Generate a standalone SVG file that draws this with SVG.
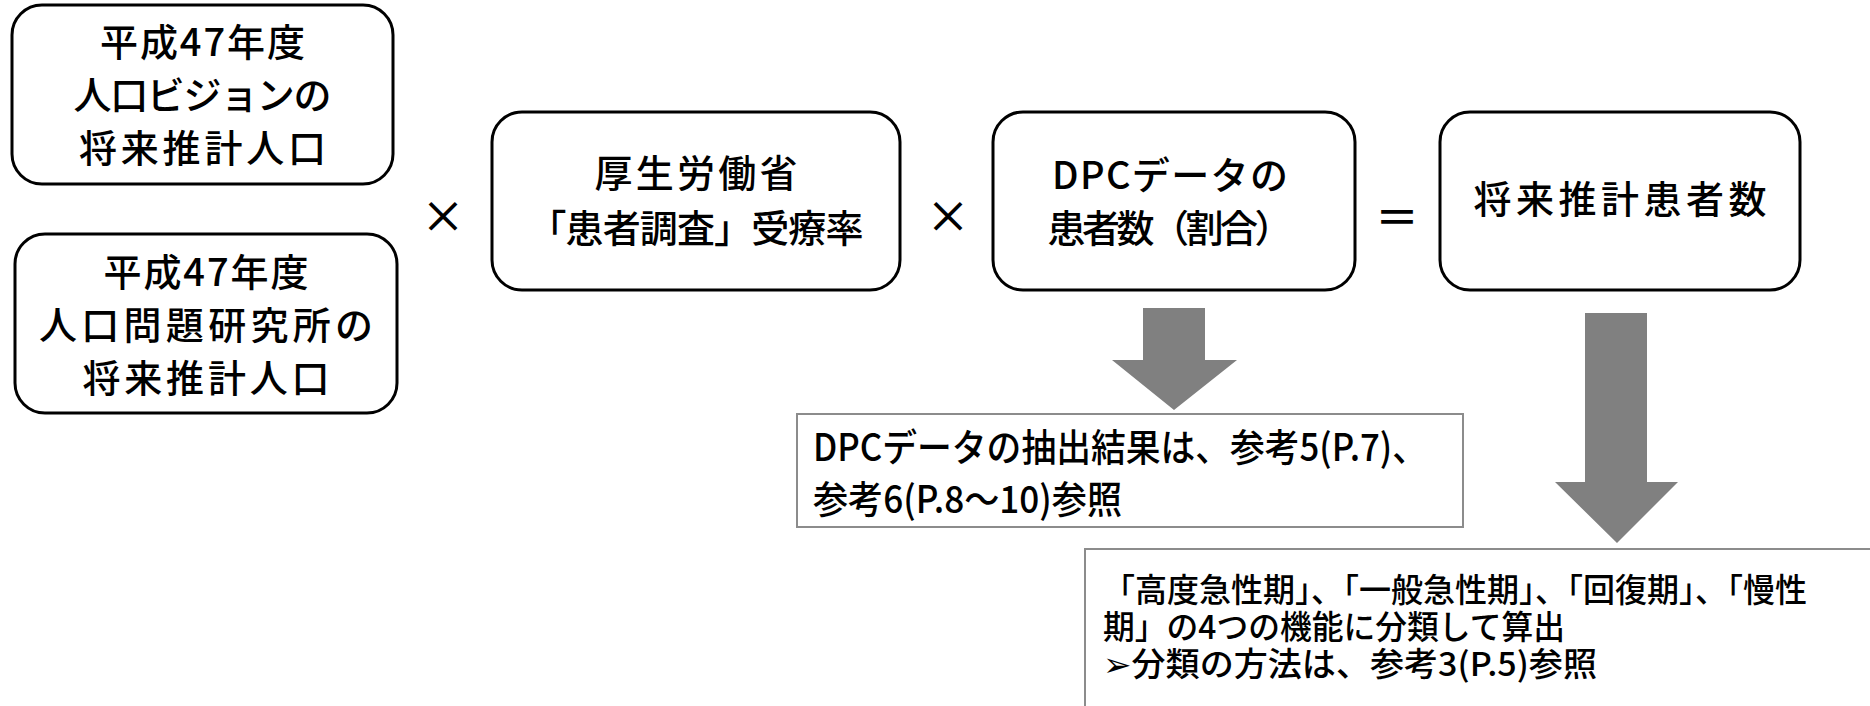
<svg xmlns="http://www.w3.org/2000/svg" width="1870" height="706" viewBox="0 0 1870 706">
<style>
.box{fill:#fff;stroke:#000;stroke-width:3}
.note{fill:#fff;stroke:#8c8c8c;stroke-width:2}
.arrow{fill:#808080}
text{font-family:"Noto Sans CJK JP","DejaVu Sans",sans-serif;fill:#000;font-weight:500}
.t{font-size:38px;text-anchor:middle}
.op{font-size:44px;text-anchor:middle}
.n1{font-size:38px}
.n2{font-size:33px}
</style>
<rect width="1870" height="706" fill="#fff"/>
<g id="connectors">
<polygon class="arrow" points="1143,308 1205,308 1205,360 1237,360 1174,410 1112,360 1143,360"/>
<polygon class="arrow" points="1585,313 1647,313 1647,482 1678,482 1617,543 1555,482 1585,482"/>
</g>
<g id="vision">
<rect class="box" x="12" y="5" width="381" height="179" rx="30"/>
<text class="t" x="202.5" y="56" textLength="205" lengthAdjust="spacing">平成47年度</text>
<text class="t" x="202.5" y="109" textLength="258" lengthAdjust="spacing">人口ビジョンの</text>
<text class="t" x="202.5" y="162" textLength="247" lengthAdjust="spacing">将来推計人口</text>
</g>
<g id="ipss">
<rect class="box" x="15" y="234" width="382" height="179" rx="30"/>
<text class="t" x="206" y="286" textLength="205" lengthAdjust="spacing">平成47年度</text>
<text class="t" x="206" y="339" textLength="334" lengthAdjust="spacing">人口問題研究所の</text>
<text class="t" x="206" y="392" textLength="247" lengthAdjust="spacing">将来推計人口</text>
</g>
<g id="op1"><text class="op" x="443" y="233">×</text></g>
<g id="mhlw">
<rect class="box" x="492" y="112" width="408" height="178" rx="30"/>
<text class="t" x="696" y="187" textLength="203" lengthAdjust="spacing">厚生労働省</text>
<text class="t" x="696" y="242" textLength="335" lengthAdjust="spacing">「患者調査」受療率</text>
</g>
<g id="op2"><text class="op" x="948" y="233">×</text></g>
<g id="dpc">
<rect class="box" x="993" y="112" width="362" height="178" rx="30"/>
<text class="t" x="1170" y="189" textLength="236" lengthAdjust="spacing">DPCデータの</text>
<text class="t" x="1170" y="242" textLength="245" lengthAdjust="spacing">患者数（割合）</text>
</g>
<g id="op3"><text class="op" x="1397" y="234">＝</text></g>
<g id="result">
<rect class="box" x="1440" y="112" width="360" height="178" rx="30"/>
<text class="t" x="1620" y="213" textLength="293" lengthAdjust="spacing">将来推計患者数</text>
</g>
<g id="note-dpc">
<rect class="note" x="797" y="414" width="666" height="113"/>
<text class="n1" x="813" y="461" textLength="614" lengthAdjust="spacingAndGlyphs">DPCデータの抽出結果は、参考5(P.7)、</text>
<text class="n1" x="813" y="513" textLength="309" lengthAdjust="spacingAndGlyphs">参考6(P.8～10)参照</text>
</g>
<g id="note-class">
<rect class="note" x="1085" y="549" width="800" height="200"/>
<text class="n2" x="1103" y="602" textLength="704" lengthAdjust="spacingAndGlyphs">「高度急性期」、「一般急性期」、「回復期」、「慢性</text>
<text class="n2" x="1103" y="639" textLength="462" lengthAdjust="spacingAndGlyphs">期」の4つの機能に分類して算出</text>
<text class="n2" x="1103" y="676" textLength="494" lengthAdjust="spacingAndGlyphs">➢分類の方法は、参考3(P.5)参照</text>
</g>
</svg>
